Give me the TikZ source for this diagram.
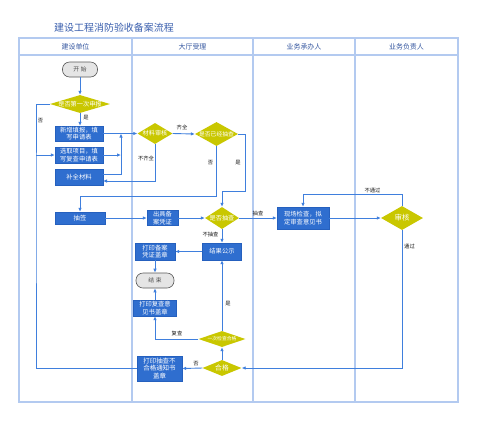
\documentclass[tikz,border=0pt]{standalone}
\usepackage{fontspec}
\setmainfont{Noto Sans CJK SC}
\usetikzlibrary{arrows.meta,shapes.geometric}
\definecolor{gridc}{HTML}{B3CAF0}
\definecolor{boxc}{HTML}{2F6ECF}
\definecolor{boxd}{HTML}{2560BE}
\definecolor{linec}{HTML}{3F7FDD}
\definecolor{diac}{HTML}{C9C700}
\definecolor{titlec}{HTML}{3A5FAE}
\definecolor{headc}{HTML}{3557A0}
\begin{document}
\begin{tikzpicture}[x=1bp,y=-1bp,
 grid/.style={draw=gridc,line width=1.3bp},
 box/.style={rectangle,fill=boxc,draw=boxd,line width=0.4bp,text=white,align=center,inner sep=0pt,font=\fontsize{6.3}{7.4}\selectfont},
 term/.style={rectangle,rounded corners=7bp,fill=black!10,draw=black!65,line width=0.6bp,inner sep=0pt,font=\fontsize{5.8}{7}\selectfont,text=black!70},
 dia/.style={diamond,fill=diac,draw=none,inner sep=0pt},
 dlab/.style={text=white,font=\fontsize{6.2}{7}\selectfont,inner sep=0pt},
 lab/.style={font=\fontsize{5.3}{6}\selectfont,text=black!90,inner sep=0pt},
 head/.style={font=\fontsize{7}{8}\selectfont,text=headc,inner sep=0pt},
 arr/.style={draw=linec,line width=0.9bp,-{Latex[length=4bp,width=3.5bp]}},
 ln/.style={draw=linec,line width=0.9bp},
]
\fill[white] (0,0) rectangle (500,425);
\useasboundingbox (0,0) rectangle (500,425);
% title
\node[font=\fontsize{10}{12}\selectfont,text=titlec,inner sep=0pt] (title) at (114,27.5) {建设工程消防验收备案流程};
% table
\draw[grid] (19,38) rectangle (458,402);
\draw[grid] (19,55) -- (458,55);
\draw[grid] (132,38) -- (132,402);
\draw[grid] (253,38) -- (253,402);
\draw[grid] (355,38) -- (355,402);
\node[head] (h1) at (75.5,46.5) {建设单位};
\node[head] (h2) at (192.5,46.5) {大厅受理};
\node[head] (h3) at (304,46.5) {业务承办人};
\node[head] (h4) at (406.5,46.5) {业务负责人};
% nodes
\node[term,minimum width=35bp,minimum height=15bp] (start) at (80,69.5) {开\,\,始};
\node[dia,minimum width=60bp,minimum height=18bp] (d1) at (80,104) {};
\node[dlab] (d1t) at (d1) {是否第一次申报};
\node[box,minimum width=48bp,minimum height=15bp] (b1) at (79,133.5) {新增填报，填\\写申请表};
\node[box,minimum width=48bp,minimum height=16bp] (b2) at (79,155) {选取项目，填\\写复查申请表};
\node[box,minimum width=48bp,minimum height=16bp] (b3) at (79,177) {补全材料};
\node[dia,minimum width=35bp,minimum height=21bp] (d2) at (155,133.5) {};
\node[dlab] (d2t) at (d2) {材料审核};
\node[dia,minimum width=43bp,minimum height=24bp] (d3) at (216.5,134) {};
\node[dlab,font=\fontsize{5.8}{7}\selectfont] (d3t) at (d3) {是否已经抽查};
\node[box,minimum width=50bp,minimum height=12bp] (b4) at (80,218) {抽签};
\node[box,minimum width=31bp,minimum height=15bp] (b5) at (162.5,218) {出具备\\案凭证};
\node[dia,minimum width=34bp,minimum height=22bp] (d4) at (222,218) {};
\node[dlab] (d4t) at (d4) {是否抽查};
\node[box,minimum width=52bp,minimum height=22bp] (b6) at (303,218) {现场检查，拟\\定审查意见书};
\node[dia,minimum width=42bp,minimum height=24bp] (d5) at (402,218) {};
\node[dlab,font=\fontsize{7.5}{8}\selectfont] (d5t) at (d5) {审核};
\node[box,minimum width=39bp,minimum height=17bp] (b7) at (222,251.5) {结果公示};
\node[box,minimum width=40bp,minimum height=17bp] (b8) at (155,251.5) {打印备案\\凭证盖章};
\node[term,minimum width=38bp,minimum height=15bp] (end) at (155,280.5) {结\,\,束};
\node[box,minimum width=43bp,minimum height=16bp] (b9) at (155,308) {打印复查意\\见书盖章};
\node[dia,minimum width=47bp,minimum height=16bp] (d6) at (222,339) {};
\node[dlab,font=\fontsize{4.8}{6}\selectfont] (d6t) at (d6) {一次检查合格};
\node[dia,minimum width=39bp,minimum height=16bp] (d7) at (222,368) {};
\node[dlab,font=\fontsize{6.8}{7}\selectfont] (d7t) at (d7) {合格};
\node[box,minimum width=45bp,minimum height=25bp,font=\fontsize{6.5}{7.6}\selectfont] (b10) at (159.5,368.5) {打印抽查不\\合格通知书\\盖章};
% helper coordinates
\coordinate (cl) at (36,200);
\coordinate (cj) at (121,150);
\coordinate (b3a) at (103,174.5);
\coordinate (b3b) at (103,181);
\coordinate (k1) at (80,196);
\coordinate (k2) at (245,191);
\coordinate (k3) at (303,194);
% connectors
\draw[arr] (start) -- (d1);
\draw[arr] (d1.south) -- (d1.south |- b1.north);
\draw[ln] (d1.west) -| (cl) |- (b10.west);
\draw[arr] (cl |- b2.west) -- (b2.west);
\draw[arr] (b1.east) -- (d2.west);
\draw[arr] (b2.east) -- (b2.east -| cj);
\draw[arr] (b3a) -| (cj |- b1.east);
\draw[arr] (d2.east) -- (d3.west);
\draw[arr] (d2.south) |- (b3b);
\draw[arr] (d3.south) |- (k1) -- (b4.north);
\draw[arr] (d3.east) -| (k2) -| (d4.north);
\draw[arr] (b4.east) -- (b5.west);
\draw[arr] (b5.east) -- (d4.west);
\draw[arr] (d4.east) -- (b6.west);
\draw[arr] (b6.east) -- (d5.west);
\draw[arr] (d5.north) |- (k3) -- (b6.north);
\draw[arr] (d5.south) |- (d7.east);
\draw[arr] (d4.south) -- (b7.north);
\draw[arr] (b7.west) -- (b8.east);
\draw[arr] (b8.south) -- (end.north);
\draw[arr] (b9.north) -- (end.south);
\draw[arr] (d6.west) -| (b9.south);
\draw[arr] (d6.north) -- (b7.south);
\draw[arr] (d7.north) -- (d6.south);
\draw[arr] (d7.west) -- (b10.east);
% labels
\node[lab] (l1) at (86,117.5) {是};
\node[lab] (l2) at (40.5,120.5) {否};
\node[lab] (l3) at (182,127.5) {齐全};
\node[lab] (l4) at (146,158) {不齐全};
\node[lab] (l5) at (210.5,163) {否};
\node[lab] (l6) at (238,163) {是};
\node[lab] (l7) at (258,213.5) {抽查};
\node[lab] (l8) at (210.5,234) {不抽查};
\node[lab] (l9) at (372.5,190.5) {不通过};
\node[lab] (l10) at (409.5,246.5) {通过};
\node[lab] (l11) at (228,304) {是};
\node[lab] (l12) at (177,333.5) {复查};
\node[lab] (l13) at (196,364) {否};
\end{tikzpicture}
\end{document}
